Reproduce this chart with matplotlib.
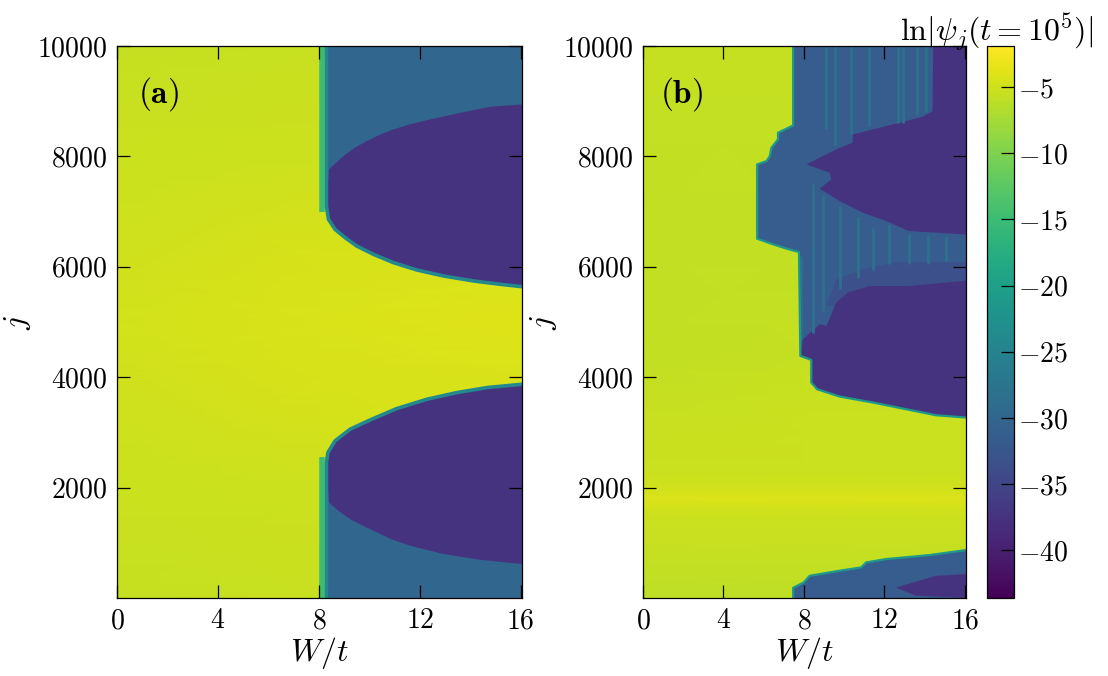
#!/usr/bin/env python3
"""ln|psi_j| heatmaps vs disorder W/t, two panels with a shared colorbar."""

import matplotlib
matplotlib.use("Agg")
import matplotlib.pyplot as plt
from matplotlib.cm import ScalarMappable
from matplotlib.colors import Normalize

plt.rcParams["mathtext.fontset"] = "cm"
plt.rcParams["font.family"] = "cmr10"
plt.rcParams["axes.unicode_minus"] = False

VMIN, VMAX = -43.6, -1.9
WMAX = 16.05
JMIN, JMAX = 1, 10000
FS = 20

x_ticks = [0, 4, 8, 12, 16]
y_ticks = [2000, 4000, 6000, 8000, 10000]
cbar_ticks = [-5, -10, -15, -20, -25, -30, -35, -40]

# yellow (delocalised) background, read at a few j for W = 0, 8, 16
bg_w = [0, 8, WMAX]
bg_j_a = [1, 2000, 4000, 5000, 6000, 8000, 10000]
bg_a = [[-5.6, -5.4, -5.0], [-5.3, -5.0, -4.6], [-4.9, -4.5, -4.2], [-4.7, -4.2, -3.9],
        [-4.9, -4.5, -4.2], [-5.3, -5.0, -4.6], [-5.6, -5.4, -5.0]]
bg_j_b = [1, 800, 1400, 1650, 1800, 1950, 2300, 3000, 4500, 6500, 10000]
bg_b = [[-6.0, -6.0, -6.0], [-5.6, -5.6, -5.6], [-5.2, -5.2, -5.2], [-4.8, -4.8, -4.8],
        [-4.1, -4.1, -4.1], [-4.8, -4.8, -4.8], [-5.2, -5.2, -5.2], [-5.4, -5.3, -5.2],
        [-5.7, -5.6, -5.5], [-5.8, -5.8, -5.8], [-5.6, -5.6, -5.6]]

LEVEL_BLUE_A = -30.0
LEVEL_DARK_A = -37.5
LEVEL_BLUE_B = -31.5
LEVEL_BAND_B = -33.5
LEVEL_DARK_B = -37.5
LEVEL_STREAK_B = -28.5
LEVEL_EDGE = -21.0
LEVEL_FRONT = -15.0
LEVEL_FRONT_IN = -24.0

# panel (a): localisation edge, top lobe
a_top_w = [8.30, 8.30, 8.38, 8.64, 9.04, 9.50, 10.16, 10.96, 11.89, 12.95, 14.14, 15.2, WMAX]
a_top_j = [JMAX, 7100, 6860, 6679, 6528, 6377, 6226, 6075, 5942, 5833, 5743, 5683, 5640]
# panel (a): dark lobe upper edge
a_dark_top_w = [8.40, 8.97, 9.4, 9.9, 10.4, 10.96, 11.6, 12.29, 13.61, 14.8, WMAX]
a_dark_top_j = [7765, 8005, 8150, 8277, 8390, 8489, 8580, 8657, 8791, 8900, 8941]
# panel (a): localisation edge, bottom lobe
a_bot_w = [8.30, 8.30, 8.36, 8.64, 9.24, 10.1, 11.09, 12.29, 13.48, 14.67, WMAX]
a_bot_j = [JMIN, 2456, 2637, 2847, 3059, 3240, 3433, 3602, 3723, 3813, 3873]
# panel (a): dark lobe lower edge
a_dark_bot_w = [8.40, 8.8, 9.24, 9.7, 10.3, 10.9, 11.62, 12.95, 14.4, WMAX]
a_dark_bot_j = [1732, 1570, 1430, 1320, 1189, 1060, 948, 796, 693, 615]

# panel (b): localisation edge, upper part
b_top_w = [7.46, 7.46, 6.71, 6.71, 6.38, 6.30, 6.14, 5.67, 5.67, 6.47, 7.13, 7.75, 7.82, 8.36,
           8.36, 8.65, 9.77, 11.42, 13.07, 14.55, WMAX]
b_top_j = [JMAX, 8561, 8429, 8308, 8157, 8005, 7915, 7855, 6510, 6407, 6330, 6268, 4386, 4314,
           3904, 3783, 3650, 3542, 3421, 3312, 3270]
# panel (b): localisation edge, bottom part
b_bot_w = [7.46, 7.46, 7.99, 8.28, 9.77, 10.84, 11.09, 12.08, 14.22, WMAX]
b_bot_j = [JMIN, 186, 283, 403, 495, 555, 646, 706, 778, 869]

# panel (b): upper dark lobe outline
b_lobe1_w = [8.12, 9.60, 10.43, 10.43, 12.08, 13.89, 14.39, 14.42, WMAX, WMAX, 15.92, 13.23, 12.08,
             10.92, 9.77, 8.78, 9.36, 9.27]
b_lobe1_j = [7855, 8127, 8250, 8398, 8549, 8718, 8820, JMAX, JMAX, 6588, 6588, 6648, 6829,
             6981, 7191, 7415, 7584, 7705]
# panel (b): lower dark lobe outline
b_lobe2_w = [7.95, 8.78, 9.12, 9.60, 10.18, 11.25, 13.23, 15.87, WMAX, WMAX, 14.55, 13.07, 11.42,
             9.77, 8.65, 8.36, 8.36, 7.82]
b_lobe2_j = [4688, 4959, 4929, 5352, 5533, 5652, 5652, 5743, 5750, 3270, 3312, 3421, 3542,
             3650, 3783, 3904, 4314, 4386]
# panel (b): slightly darker band above the lower lobe
b_band_w = [9.12, 9.60, 10.9, 12.57, 15.87, WMAX, WMAX, 11.25, 9.60]
b_band_j = [5300, 5775, 5955, 6081, 6081, 6081, 5700, 5600, 5300]
# panel (b): small dark wedge at the bottom right
b_wedge_w = [12.57, 14.55, WMAX, WMAX, 13.56]
b_wedge_j = [190, 403, 434, JMIN, 42]

# panel (b): lighter vertical streaks (W, j from, j to)
b_streak_w = [9.11, 9.52, 10.35, 11.25, 12.65, 12.9, 13.64, 14.06,
              7.87, 8.45, 8.94, 9.77, 10.67, 11.42, 12.24, 13.23, 14.14, 15.05]
b_streak_lo = [8500, 8200, 8400, 8550, 8600, 8600, 8750, 8800,
               4700, 4800, 5200, 5600, 5800, 5950, 6050, 6050, 6050, 6100]
b_streak_hi = [JMAX, JMAX, JMAX, JMAX, JMAX, JMAX, JMAX, JMAX,
               6200, 7500, 7300, 7100, 6900, 6700, 6750, 6600, 6550, 6550]

norm = Normalize(VMIN, VMAX)
cmap = plt.get_cmap("viridis")


def col(level):
    return cmap(norm(level))


def style_axes(ax, label):
    ax.set_xlim(0, WMAX)
    ax.set_ylim(JMIN, JMAX)
    ax.set_axisbelow(False)
    ax.set_xticks(x_ticks, [f"${t}$" for t in x_ticks])
    ax.set_yticks(y_ticks, [f"${t}$" for t in y_ticks])
    ax.tick_params(direction="in", length=9.5, width=0.9, top=True, right=True,
                   labelsize=FS, pad=7)
    ax.set_xlabel("$W/t$", fontsize=23, labelpad=1)
    ax.set_ylabel("$j$", fontsize=23, labelpad=3)
    ax.text(0.85, 9130, label, fontsize=24, va="center", ha="left")
    for s in ax.spines.values():
        s.set_linewidth(0.9)


fig = plt.figure(figsize=(11.08, 6.76), dpi=100)
W_PX, H_PX = 1108, 676


def px_axes(x0, x1, y0, y1):
    return fig.add_axes([x0 / W_PX, 1 - y1 / H_PX, (x1 - x0) / W_PX, (y1 - y0) / H_PX])


ax_a = px_axes(117, 522, 46, 598)
ax_b = px_axes(643, 966, 46, 598)
cax = px_axes(987, 1014, 46, 598)

# panel (a)
ax_a.pcolormesh(bg_w, bg_j_a, bg_a, cmap=cmap, norm=norm, shading="gouraud")
ax_a.vlines(8.13, 7000, JMAX, color=col(LEVEL_FRONT), lw=4)
ax_a.vlines(8.13, JMIN, 2550, color=col(LEVEL_FRONT), lw=4)
ax_a.fill(a_top_w + [WMAX], a_top_j + [JMAX], color=col(LEVEL_BLUE_A), lw=0)
ax_a.fill(a_bot_w + [WMAX], a_bot_j + [JMIN], color=col(LEVEL_BLUE_A), lw=0)
ax_a.fill(a_dark_top_w + a_top_w[:0:-1], a_dark_top_j + a_top_j[:0:-1],
          color=col(LEVEL_DARK_A), lw=0)
ax_a.fill(a_dark_bot_w + a_bot_w[:0:-1], a_dark_bot_j + a_bot_j[:0:-1],
          color=col(LEVEL_DARK_A), lw=0)
ax_a.plot(a_top_w, a_top_j, color=col(LEVEL_FRONT_IN), lw=2.6, solid_capstyle="butt")
ax_a.plot(a_bot_w, a_bot_j, color=col(LEVEL_FRONT_IN), lw=2.6, solid_capstyle="butt")
style_axes(ax_a, r"$\mathbf{(a)}$")

# panel (b)
ax_b.pcolormesh(bg_w, bg_j_b, bg_b, cmap=cmap, norm=norm, shading="gouraud")
ax_b.fill(b_top_w + [WMAX], b_top_j + [JMAX], color=col(LEVEL_BLUE_B), lw=0)
ax_b.fill(b_bot_w + [WMAX], b_bot_j + [JMIN], color=col(LEVEL_BLUE_B), lw=0)
ax_b.fill(b_band_w, b_band_j, color=col(LEVEL_BAND_B), lw=0)
ax_b.vlines(b_streak_w, b_streak_lo, b_streak_hi, color=col(LEVEL_STREAK_B), lw=2.2)
ax_b.fill(b_lobe1_w, b_lobe1_j, color=col(LEVEL_DARK_B), lw=0)
ax_b.fill(b_lobe2_w, b_lobe2_j, color=col(LEVEL_DARK_B), lw=0)
ax_b.fill(b_wedge_w, b_wedge_j, color=col(LEVEL_DARK_B), lw=0)
ax_b.plot(b_top_w, b_top_j, color=col(LEVEL_EDGE), lw=1.6, solid_capstyle="butt")
ax_b.plot(b_bot_w, b_bot_j, color=col(LEVEL_EDGE), lw=1.6, solid_capstyle="butt")
style_axes(ax_b, r"$\mathbf{(b)}$")

# colorbar
cb = fig.colorbar(ScalarMappable(norm=norm, cmap=cmap), cax=cax)
cb.set_ticks(cbar_ticks, labels=[f"${t}$" for t in cbar_ticks])
cb.ax.tick_params(direction="in", length=9.5, width=0.9, labelsize=FS, pad=3)
cb.outline.set_linewidth(0.9)
fig.text(997 / W_PX, 1 - 41 / H_PX, r"$\ln|\psi_j(t=10^5)|$", fontsize=23, ha="center", va="baseline")

plt.savefig("out.png", dpi=100)
